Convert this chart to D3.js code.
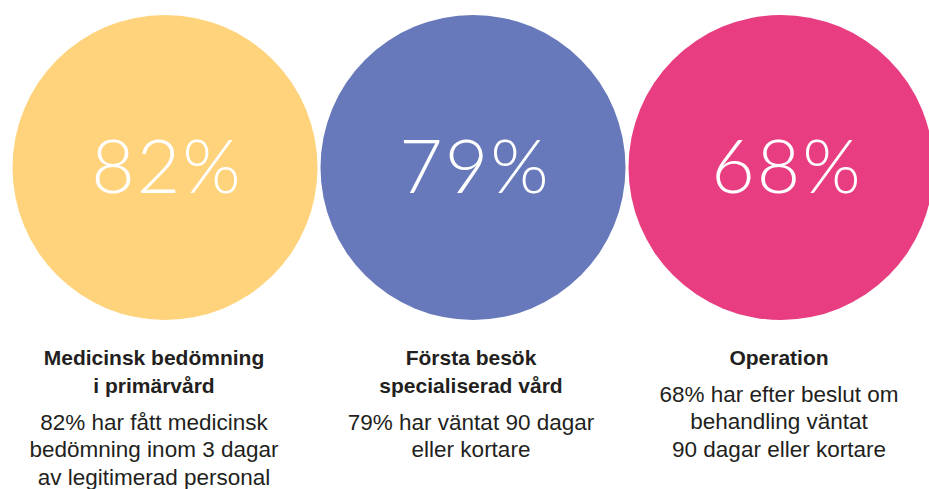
<!DOCTYPE html>
<html>
<head>
<meta charset="utf-8">
<script src="https://cdn.jsdelivr.net/npm/d3@7/dist/d3.min.js"></script>
<style>
  html, body { margin: 0; padding: 0; background: #fff; }
  svg { display: block; }
</style>
</head>
<body>
<svg id="chart" width="929" height="489"></svg>
<script>
// ---- data ----
const categories = ["primarvard", "specialiserad", "operation"];
const values = [82, 79, 68];
const titles = [
  ["Medicinsk bedömning", "i primärvård"],
  ["Första besök", "specialiserad vård"],
  ["Operation"]
];
const descriptions = [
  ["82% har fått medicinsk", "bedömning inom 3 dagar", "av legitimerad personal"],
  ["79% har väntat 90 dagar", "eller kortare"],
  ["68% har efter beslut om", "behandling väntat", "90 dagar eller kortare"]
];
const colors = ["#FFD37B", "#6779BA", "#E93D82"];

// ---- layout ----
const cy = 167.5, r = 152.5;
const textDx = [-11, -2, -2];
const numDx = [2, 2, 6];

const svg = d3.select("#chart");
const x = d3.scaleBand().domain(categories).range([11, 935]).padding(0);
const cx = d => x(d) + x.bandwidth() / 2;

const g = svg.selectAll("g.panel")
  .data(categories.map((c, i) => ({ c, i })))
  .join("g").attr("class", "panel");

g.append("circle")
  .attr("cx", d => cx(d.c))
  .attr("cy", cy)
  .attr("r", r)
  .attr("fill", d => colors[d.i]);

g.append("text")
  .attr("x", d => cx(d.c) + numDx[d.i])
  .attr("y", 193)
  .attr("text-anchor", "middle")
  .attr("fill", "#fff")
  .style("font-family", "Lato, 'Open Sans', sans-serif")
  .style("font-weight", 300)
  .style("font-size", "75px")
  .style("letter-spacing", "2px")
  .text(d => values[d.i] + "%");

g.each(function (d) {
  const sel = d3.select(this);
  const tx = cx(d.c) + textDx[d.i];
  const t = titles[d.i];
  t.forEach((line, k) => {
    sel.append("text")
      .attr("x", tx)
      .attr("y", 365 + k * 28)
      .attr("text-anchor", "middle")
      .attr("fill", "#231f20")
      .style("font-family", "'Liberation Sans', Arial, sans-serif")
      .style("font-weight", 700)
      .style("font-size", "21px")
      .text(line);
  });
  const start = 365 + (t.length - 1) * 28 + 37;
  descriptions[d.i].forEach((line, k) => {
    sel.append("text")
      .attr("x", tx)
      .attr("y", start + k * 27.3)
      .attr("text-anchor", "middle")
      .attr("fill", "#231f20")
      .style("font-family", "'Liberation Sans', Arial, sans-serif")
      .style("font-weight", 400)
      .style("font-size", "22.5px")
      .text(line);
  });
});
</script>
</body>
</html>
